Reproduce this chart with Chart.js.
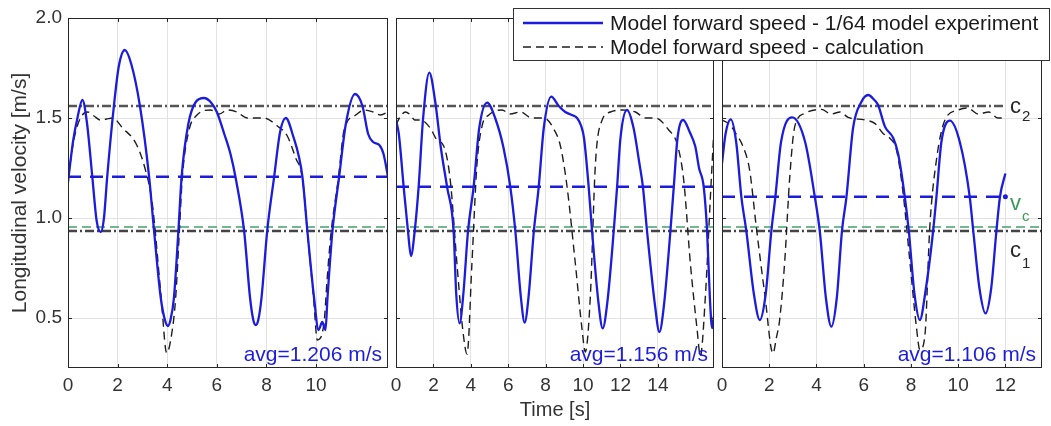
<!DOCTYPE html>
<html>
<head>
<meta charset="utf-8">
<script src="https://cdn.jsdelivr.net/npm/chart.js@4.4.1/dist/chart.umd.min.js"></script>
<style>
  body { margin: 0; background: #fff; }
  #wrap { position: relative; width: 1051px; height: 426px; }
  #wrap canvas { position: absolute; left: 0; top: 0; }
</style>
</head>
<body>
<div id="wrap">
  <canvas id="p1" width="1051" height="426"></canvas>
  <canvas id="p2" width="1051" height="426"></canvas>
  <canvas id="p3" width="1051" height="426"></canvas>
</div>
<script>
// end of each run [s] and the tick labels shown under each panel
const runEnd = [12.9, 17, 13.55];
const xTicks1 = [0, 2, 4, 6, 8, 10];
const xTicks2 = [0, 2, 4, 6, 8, 10, 12, 14];
const xTicks3 = [0, 2, 4, 6, 8, 10, 12];
const yTicks = [0.5, 1.0, 1.5, 2.0];

const avgSpeed = [1.206, 1.156, 1.106];
const c1 = 0.935, c2 = 1.56, vc = 0.955;

// run 1 - experiment
const exp1T = [0, 0.2, 0.38, 0.58, 0.76, 0.98, 1.15, 1.32, 1.45, 1.58, 1.85, 2.05, 2.29, 2.55, 2.9, 3.27, 3.47, 3.74, 3.93, 4.03, 4.13, 4.27, 4.45, 4.58, 4.85, 5.15, 5.48, 5.75, 6.0, 6.3, 6.55, 6.75, 7.1, 7.34, 7.47, 7.57, 7.67, 7.8, 8.03, 8.31, 8.55, 8.78, 9.05, 9.45, 9.65, 9.92, 10.1, 10.25, 10.38, 10.46, 10.66, 10.93, 11.2, 11.57, 11.87, 12.1, 12.3, 12.55, 12.72, 12.9];
const exp1V = [1.18, 1.38, 1.5, 1.59, 1.48, 1.206, 0.99, 0.93, 1.0, 1.206, 1.56, 1.76, 1.84, 1.77, 1.56, 1.206, 0.935, 0.6, 0.48, 0.46, 0.49, 0.6, 0.935, 1.206, 1.47, 1.58, 1.6, 1.58, 1.53, 1.42, 1.32, 1.206, 0.935, 0.6, 0.49, 0.465, 0.49, 0.6, 0.935, 1.206, 1.43, 1.5, 1.42, 1.206, 0.935, 0.6, 0.44, 0.48, 0.44, 0.6, 0.935, 1.206, 1.47, 1.62, 1.56, 1.42, 1.38, 1.365, 1.32, 1.206];
// run 1 - calculation
const calc1T = [0, 0.25, 0.5, 0.8, 1.05, 1.3, 1.55, 1.8, 2.2, 2.75, 3.1, 3.4, 3.75, 3.98, 4.18, 4.34, 4.48, 4.61, 4.88, 5.2, 5.75, 6.1, 6.42, 6.8, 7.23, 7.9, 8.44, 8.84, 9.18, 9.45, 9.65, 9.9, 10.05, 10.32, 10.45, 10.59, 10.9, 11.13, 11.6, 11.94, 12.3, 12.6, 12.9];
const calc1V = [1.2, 1.4, 1.5, 1.53, 1.51, 1.49, 1.495, 1.5, 1.45, 1.37, 1.25, 1.07, 0.61, 0.325, 0.42, 0.6, 0.91, 1.206, 1.44, 1.515, 1.54, 1.52, 1.54, 1.53, 1.5, 1.5, 1.46, 1.41, 1.3, 1.2, 0.93, 0.6, 0.39, 0.475, 0.7, 0.91, 1.2, 1.44, 1.515, 1.54, 1.53, 1.515, 1.53];

// run 2 - experiment
const exp2T = [0, 0.15, 0.41, 0.64, 0.8, 1.0, 1.21, 1.45, 1.78, 2.1, 2.4, 2.73, 3.08, 3.22, 3.4, 3.6, 3.85, 4.15, 4.45, 4.87, 5.3, 5.75, 6.11, 6.38, 6.68, 6.88, 7.08, 7.37, 7.63, 7.9, 8.3, 8.7, 9.05, 9.4, 9.68, 9.9, 10.05, 10.3, 10.48, 10.82, 11.05, 11.3, 11.64, 11.82, 12.0, 12.35, 12.7, 13.0, 13.2, 13.42, 13.85, 14.08, 14.32, 14.67, 14.85, 15.05, 15.35, 15.7, 16.0, 16.2, 16.45, 16.63, 16.78, 16.9, 17];
const exp2V = [1.49, 1.42, 1.156, 0.935, 0.81, 0.935, 1.156, 1.5, 1.727, 1.58, 1.35, 1.156, 0.935, 0.62, 0.473, 0.62, 0.935, 1.156, 1.45, 1.577, 1.5, 1.35, 1.156, 0.935, 0.6, 0.477, 0.6, 0.935, 1.156, 1.45, 1.607, 1.56, 1.53, 1.515, 1.5, 1.46, 1.4, 1.156, 0.935, 0.58, 0.448, 0.58, 0.935, 1.156, 1.4, 1.54, 1.45, 1.28, 1.156, 0.935, 0.56, 0.43, 0.56, 0.935, 1.156, 1.4, 1.49, 1.43, 1.357, 1.25, 1.156, 0.935, 0.6, 0.45, 0.51];
// run 2 - calculation
const calc2T = [0, 0.23, 0.5, 0.77, 1.0, 1.3, 1.83, 2.19, 2.55, 2.9, 3.26, 3.57, 3.8, 4.06, 4.33, 4.6, 4.96, 5.67, 6.1, 6.65, 7.27, 7.9, 8.52, 8.79, 9.14, 9.59, 9.95, 10.12, 10.39, 10.66, 11.02, 11.46, 12.09, 12.8, 13.33, 13.87, 14.58, 15.03, 15.38, 15.74, 16.1, 16.27, 16.54, 16.81, 17];
const calc2V = [1.465, 1.507, 1.53, 1.515, 1.49, 1.49, 1.45, 1.39, 1.36, 1.19, 0.77, 0.44, 0.32, 0.775, 1.27, 1.46, 1.515, 1.54, 1.52, 1.53, 1.5, 1.5, 1.43, 1.36, 1.16, 0.77, 0.44, 0.33, 0.61, 1.27, 1.49, 1.53, 1.54, 1.53, 1.5, 1.5, 1.44, 1.37, 1.19, 0.77, 0.44, 0.31, 0.61, 1.11, 1.45];

// run 3 - experiment
const exp3T = [0, 0.15, 0.37, 0.6, 0.82, 1.03, 1.35, 1.6, 1.85, 2.09, 2.26, 2.5, 2.97, 3.52, 3.93, 4.14, 4.4, 4.63, 4.86, 5.08, 5.27, 5.55, 5.9, 6.19, 6.45, 6.61, 6.9, 7.25, 7.46, 7.74, 7.91, 8.15, 8.38, 8.6, 8.94, 9.08, 9.29, 9.65, 10.07, 10.49, 10.64, 10.9, 11.16, 11.4, 11.62, 11.77, 12.0];
const exp3V = [1.273, 1.42, 1.493, 1.38, 1.106, 0.935, 0.62, 0.49, 0.62, 0.935, 1.106, 1.38, 1.503, 1.38, 1.106, 0.935, 0.6, 0.457, 0.6, 0.935, 1.106, 1.45, 1.58, 1.615, 1.59, 1.565, 1.457, 1.4, 1.32, 1.106, 0.935, 0.62, 0.49, 0.62, 0.935, 1.106, 1.38, 1.487, 1.38, 1.106, 0.935, 0.65, 0.523, 0.65, 0.935, 1.106, 1.223];
// run 3 - calculation
const calc3T = [0, 0.3, 0.6, 0.89, 1.17, 1.45, 1.81, 2.16, 2.3, 2.44, 2.66, 2.87, 3.08, 3.5, 4.21, 4.63, 5.0, 5.34, 6.05, 6.47, 6.82, 7.1, 7.39, 7.67, 7.95, 8.23, 8.38, 8.59, 8.8, 9.08, 9.44, 10.0, 10.4, 10.85, 11.3, 11.69, 11.9];
const calc3V = [1.49, 1.47, 1.42, 1.357, 1.24, 0.957, 0.62, 0.323, 0.4, 0.49, 0.79, 1.207, 1.457, 1.523, 1.543, 1.52, 1.53, 1.503, 1.49, 1.473, 1.423, 1.4, 1.34, 1.123, 0.79, 0.457, 0.34, 0.41, 0.957, 1.29, 1.49, 1.54, 1.55, 1.52, 1.53, 1.5, 1.5];

const expLabel = 'Model forward speed - 1/64 model experiment';
const calcLabel = 'Model forward speed - calculation';

const BLUE = '#1c1cdc';
const FONT = '"Liberation Sans", Arial, sans-serif';
// pixel box of each panel's plot area
const boxes = [[68, 388], [396, 714], [722, 1042]];
const TOP = 18, BOTTOM = 368;

const pts = (t, v) => t.map((x, i) => ({x: x, y: v[i]}));
const flat = (val, from, to) => [{x: from, y: val}, {x: to, y: val}];

// frame, inner ticks, avg text, line labels and the legend
const decor = {
  id: 'decor',
  afterDatasetsDraw(chart, args, o) {
    const {ctx, chartArea: a, scales} = chart;
    const x = scales.x, y = scales.y;
    ctx.save();
    ctx.strokeStyle = '#262626';
    ctx.lineWidth = 1;
    ctx.strokeRect(a.left + 0.5, a.top + 0.5, a.width - 1, a.height - 1);
    ctx.beginPath();
    x.ticks.forEach(t => {
      const px = Math.round(x.getPixelForValue(t.value)) + 0.5;
      ctx.moveTo(px, a.bottom); ctx.lineTo(px, a.bottom - 4);
      ctx.moveTo(px, a.top); ctx.lineTo(px, a.top + 4);
    });
    y.ticks.forEach(t => {
      const py = Math.round(y.getPixelForValue(t.value)) + 0.5;
      ctx.moveTo(a.left, py); ctx.lineTo(a.left + 4, py);
      ctx.moveTo(a.right, py); ctx.lineTo(a.right - 4, py);
    });
    ctx.stroke();

    ctx.fillStyle = BLUE;
    ctx.font = '21px ' + FONT;
    ctx.textAlign = 'right';
    ctx.textBaseline = 'alphabetic';
    ctx.fillText('avg=' + o.avg.toFixed(3) + ' m/s', a.right - 6, a.bottom - 7);

    if (o.lineLabels) {
      const lx = x.getPixelForValue(12.2);
      const sub = (main, s, py, dy, color) => {
        ctx.fillStyle = color;
        ctx.textAlign = 'left';
        ctx.textBaseline = 'middle';
        ctx.font = '22px ' + FONT;
        ctx.fillText(main, lx, py);
        ctx.font = '15px ' + FONT;
        ctx.fillText(s, lx + 12, py + dy);
      };
      sub('c', '2', y.getPixelForValue(c2) + 1, 10, '#262626');
      sub('v', 'c', y.getPixelForValue(vc) - 23, 13, '#3c9a5a');
      sub('c', '1', y.getPixelForValue(c1) + 20, 13, '#262626');
    }

    if (o.legend) {
      const ds = chart.data.datasets;
      ctx.fillStyle = '#fff';
      ctx.fillRect(513, 8, 537, 53);
      ctx.strokeStyle = '#333';
      ctx.strokeRect(513.5, 8.5, 536, 52);
      [0, 1].forEach(i => {
        const ly = 23 + i * 24;
        ctx.strokeStyle = ds[i].borderColor;
        ctx.lineWidth = ds[i].borderWidth;
        ctx.setLineDash(ds[i].borderDash || []);
        ctx.beginPath();
        ctx.moveTo(523, ly); ctx.lineTo(603, ly);
        ctx.stroke();
        ctx.setLineDash([]);
        ctx.fillStyle = '#1a1a1a';
        ctx.font = '21px ' + FONT;
        ctx.textAlign = 'left';
        ctx.textBaseline = 'middle';
        ctx.fillText(ds[i].label, 610, ly + 1);
      });
    }
    ctx.restore();
  }
};

function makePanel(id, k, expT, expV, calcT, calcV, ticks) {
  const end = runEnd[k];
  const dataEnd = expT[expT.length - 1];
  const first = k === 0;
  const last = k === 2;
  const datasets = [
    {label: expLabel, data: pts(expT, expV), borderColor: BLUE, borderWidth: 2.3,
     cubicInterpolationMode: 'monotone'},
    {label: calcLabel, data: pts(calcT, calcV), borderColor: '#1e1e1e', borderWidth: 1.4,
     borderDash: [8, 5], cubicInterpolationMode: 'monotone'},
    {label: 'avg', data: flat(avgSpeed[k], 0, last ? dataEnd : end), borderColor: BLUE,
     borderWidth: 2.6, borderDash: [13, 9], pointRadius: [0, last ? 2.5 : 0],
     pointBackgroundColor: BLUE, pointBorderWidth: 0},
    {label: 'c2', data: flat(c2, 0, last ? dataEnd : end), borderColor: '#555',
     borderWidth: 2.5, borderDash: [9, 3, 2, 3]},
    {label: 'vc', data: flat(vc, 0, end), borderColor: 'rgba(90,170,125,0.85)',
     borderWidth: 2, borderDash: [9, 5]},
    {label: 'c1', data: flat(c1, 0, end), borderColor: '#444',
     borderWidth: 2.5, borderDash: [9, 3, 2, 3]}
  ];
  return new Chart(document.getElementById(id), {
    type: 'line',
    data: {datasets: datasets},
    options: {
      responsive: false,
      animation: false,
      events: [],
      elements: {point: {radius: 0}, line: {borderCapStyle: 'butt'}},
      layout: {padding: {left: first ? 0 : boxes[k][0], right: 1051 - boxes[k][1], top: TOP, bottom: 0}},
      scales: {
        x: {
          type: 'linear', min: 0, max: end,
          afterBuildTicks: s => { s.ticks = ticks.map(v => ({value: v})); },
          afterFit: s => { s.height = 426 - BOTTOM; },
          grid: {color: '#e2e2e2', drawTicks: false},
          border: {display: false},
          ticks: {padding: 6, color: '#333', font: {family: FONT, size: 19}},
          title: {display: k === 1, text: 'Time [s]', color: '#333',
                  font: {family: FONT, size: 20}, padding: {top: 0, bottom: 4}}
        },
        y: {
          type: 'linear', min: 0.25, max: 2.0,
          afterBuildTicks: s => { s.ticks = yTicks.map(v => ({value: v})); },
          afterFit: s => { s.width = first ? boxes[0][0] : 0; },
          grid: {color: '#e2e2e2', drawTicks: false},
          border: {display: false},
          ticks: {display: first, padding: 6, color: '#333', font: {family: FONT, size: 19},
                  callback: v => v.toFixed(1)},
          title: {display: first, text: 'Longitudinal velocity [m/s]', color: '#333',
                  font: {family: FONT, size: 21}, padding: {top: 8, bottom: 0}}
        }
      },
      plugins: {
        legend: {display: false},
        tooltip: {enabled: false},
        decor: {avg: avgSpeed[k], lineLabels: last, legend: last}
      }
    },
    plugins: [decor]
  });
}

makePanel('p1', 0, exp1T, exp1V, calc1T, calc1V, xTicks1);
makePanel('p2', 1, exp2T, exp2V, calc2T, calc2V, xTicks2);
makePanel('p3', 2, exp3T, exp3V, calc3T, calc3V, xTicks3);
</script>
</body>
</html>
